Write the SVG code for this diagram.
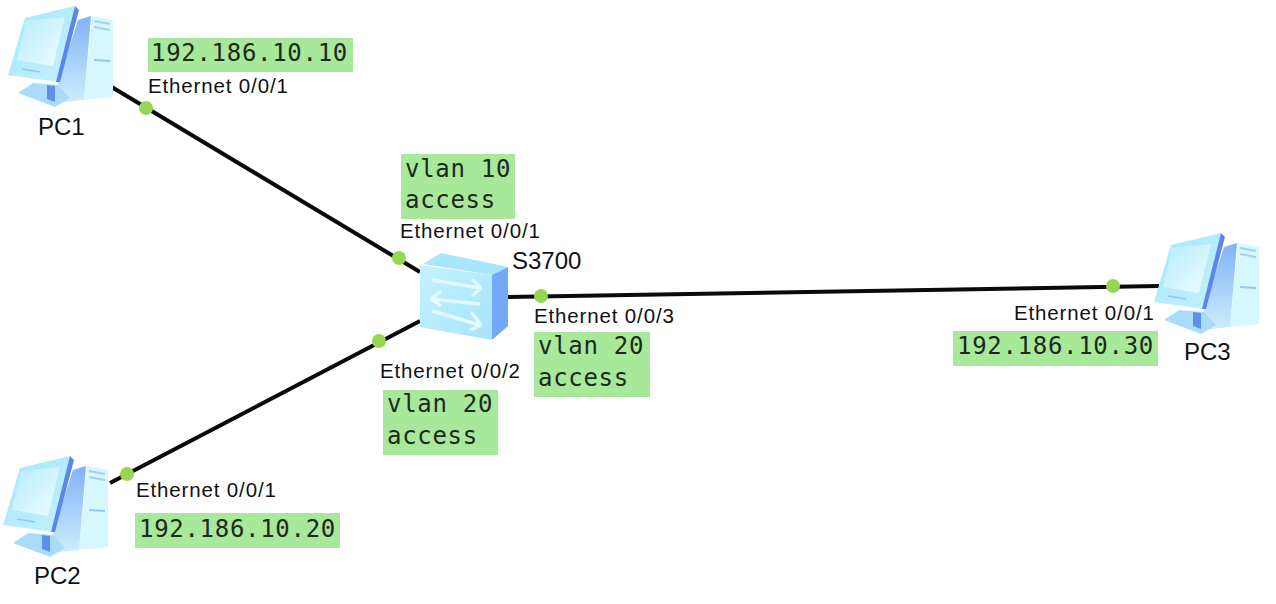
<svg xmlns="http://www.w3.org/2000/svg" width="1276" height="604" viewBox="0 0 1276 604">
<style>
.lab{font-family:"Liberation Sans",Arial,sans-serif;font-size:20.5px;fill:#111;letter-spacing:0.85px}
.name{font-family:"Liberation Sans",Arial,sans-serif;font-size:24px;fill:#111}
.mono{font-family:"DejaVu Sans Mono","Liberation Mono",monospace;font-size:24px;fill:#1c2a1c;letter-spacing:0.7px}
.box{fill:#a8e89a}
.dot{fill:#96d653}
.ln{stroke:#0a0a0a;stroke-width:4;fill:none}
</style>
<defs>
<linearGradient id="mon" x1="0" y1="0" x2="1" y2="1"><stop offset="0" stop-color="#a6e6fc"/><stop offset="1" stop-color="#c4f1fe"/></linearGradient>
<linearGradient id="scr" x1="0" y1="0" x2="1" y2="1"><stop offset="0" stop-color="#b4ecfc"/><stop offset="1" stop-color="#f0fcff"/></linearGradient>
<linearGradient id="side" x1="0" y1="0" x2="0" y2="1"><stop offset="0" stop-color="#80b2f6"/><stop offset="1" stop-color="#cdeefc"/></linearGradient>
<linearGradient id="sw" x1="0" y1="0" x2="1" y2="1"><stop offset="0" stop-color="#c4f2fe"/><stop offset="1" stop-color="#a6e3fb"/></linearGradient>
<symbol id="pc" viewBox="0 0 120 115" width="120" height="115" overflow="visible">
<path d="M92 16L113 20V97L84 100Z" fill="#d6f7fe"/>
<path d="M78 20L91 16L84 100L56 103L58 82Z" fill="url(#side)"/>
<path d="M94 21L110 24M94 27L110 30" stroke="#9fd3f3" stroke-width="2"/>
<path d="M94 60L110 61" stroke="#8fc8f0" stroke-width="2"/>
<path d="M18 93L33 83L58 85L70 98L55 107Z" fill="#a9dcfb"/>
<path d="M47 85L55 86V102L47 99Z" fill="#5c90ea"/>
<path d="M25 18L75 6L58 82L8 75Z" fill="url(#mon)"/>
<path d="M75 6L79 10L60 82L56 82Z" fill="#5d86ea"/>
<path d="M26 21L65 17L53 66L17 60Z" fill="url(#scr)"/>
<path d="M22 69L40 72" stroke="#8fc8f0" stroke-width="1.5"/>
</symbol>
</defs>
<g id="connectors">
<path class="ln" d="M110 86L420 272"/>
<path class="ln" d="M110 483L420 321"/>
<path class="ln" d="M508 297L1159 286"/>
</g>
<g id="pc1"><use href="#pc" x="0" y="0"/><text class="name" x="38" y="135">PC1</text></g>
<g id="pc2"><use href="#pc" x="-5" y="450"/><text class="name" x="34" y="584">PC2</text></g>
<g id="pc3"><use href="#pc" x="1146" y="227"/><text class="name" x="1184" y="360">PC3</text></g>
<g id="s3700">
<path d="M423 264L441 253L508 267L492 275Z" fill="#a8e6fc"/>
<path d="M492 275L508 267V326L492 340Z" fill="#73a9f6"/>
<path d="M420 265L492 275V340L420 327Z" fill="url(#sw)"/>
<g fill="none" stroke="#e2f9ff" stroke-width="3.5" stroke-linejoin="bevel">
<path d="M432 280L480 288M472 279L481 288L472 296"/>
<path d="M480 304L432 299M441 291L431 299L441 306"/>
<path d="M432 311L480 325M471 312L481 325L470 330"/>
</g>
<text class="name" x="512" y="269">S3700</text>
</g>
<g id="labels">
<rect class="box" x="148" y="38" width="205" height="34"/>
<text class="mono" x="151" y="61">192.186.10.10</text>
<text class="lab" x="148" y="93">Ethernet 0/0/1</text>
<rect class="box" x="401" y="154" width="114" height="65"/>
<text class="mono" x="405" y="177">vlan 10</text>
<text class="mono" x="405" y="208">access</text>
<text class="lab" x="400" y="238">Ethernet 0/0/1</text>
<text class="lab" x="534" y="323">Ethernet 0/0/3</text>
<rect class="box" x="534" y="332" width="116" height="65"/>
<text class="mono" x="538" y="354">vlan 20</text>
<text class="mono" x="538" y="386">access</text>
<text class="lab" x="380" y="378">Ethernet 0/0/2</text>
<rect class="box" x="383" y="390" width="115" height="65"/>
<text class="mono" x="387" y="412">vlan 20</text>
<text class="mono" x="387" y="444">access</text>
<text class="lab" x="136" y="497">Ethernet 0/0/1</text>
<rect class="box" x="135" y="513" width="205" height="35"/>
<text class="mono" x="139" y="537">192.186.10.20</text>
<text class="lab" x="1014" y="320">Ethernet 0/0/1</text>
<rect class="box" x="953" y="331" width="205" height="35"/>
<text class="mono" x="957" y="354">192.186.10.30</text>
</g>
<g id="ports">
<circle class="dot" cx="146" cy="108" r="7"/>
<circle class="dot" cx="399" cy="258" r="7"/>
<circle class="dot" cx="379" cy="341" r="7"/>
<circle class="dot" cx="541" cy="296" r="7"/>
<circle class="dot" cx="127" cy="474" r="7"/>
<circle class="dot" cx="1113" cy="286" r="7"/>
</g>
</svg>
